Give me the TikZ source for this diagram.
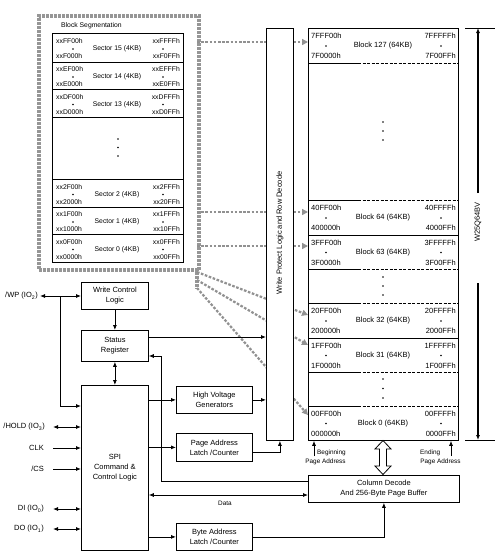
\documentclass[tikz,border=0pt]{standalone}
\usepackage{fontspec}
\setmainfont{Liberation Sans}
\usetikzlibrary{arrows.meta,calc}
\definecolor{gbox}{RGB}{150,150,150}
\definecolor{garrc}{RGB}{145,145,145}
\newcommand\fsa{\fontsize{7.5}{10}\selectfont}
\newcommand\fsb{\fontsize{6.8}{8}\selectfont}
\newcommand\fsc{\fontsize{6.4}{8}\selectfont}
\newcommand\secrow[8]{%
  \pgfmathsetmacro\rc{(#2+#3)/2+1.5}%
  \node[box, minimum width=131pt, minimum height={(#3-#2)*1pt}] (#1) at (52,#2) {};
  \node[font=\fsb] at (117,\rc) {#4};
  \node[font=\fsb, anchor=west] at (56,\rc-7.5) {#5};
  \node[font=\fsb, anchor=west] at (56,\rc+7.5) {#6};
  \node[font=\fsb, anchor=east] at (180,\rc-7.5) {#7};
  \node[font=\fsb, anchor=east] at (180,\rc+7.5) {#8};
  \fill (73,\rc) circle (0.9pt);
  \fill (163,\rc) circle (0.9pt);
}
\newcommand\blkrow[8]{%
  \pgfmathsetmacro\rc{(#2+#3)/2+0.5}%
  \node[anchor=north west, minimum width=150pt, minimum height={(#3-#2)*1pt}] (#1) at (308,#2) {};
  \node[font=\fsa] at (383,\rc) {#4};
  \node[font=\fsa, anchor=west] at (311,\rc-10) {#5};
  \node[font=\fsa, anchor=west] at (311,\rc+10) {#6};
  \node[font=\fsa, anchor=east] at (456,\rc-10) {#7};
  \node[font=\fsa, anchor=east] at (456,\rc+10) {#8};
  \fill (326,\rc) circle (0.9pt);
  \fill (441,\rc) circle (0.9pt);
}
\begin{document}
\begin{tikzpicture}[x=1pt,y=-1pt,
  every node/.style={inner sep=0pt, font=\fsa},
  box/.style={draw, line width=.8pt, anchor=north west, align=center, fill=white},
  ln/.style={line width=.8pt},
  arr/.style={line width=.8pt, -{Latex[length=5pt,width=4pt]}},
  darr/.style={line width=.8pt, {Latex[length=5pt,width=4pt]}-{Latex[length=5pt,width=4pt]}},
  garr/.style={draw=garrc, line width=2.2pt, dash pattern=on 2.6pt off 1.6pt, -{Triangle[length=6pt,width=6pt]}},
  gline/.style={draw=gbox, line width=3.5pt, dash pattern=on 3pt off 1pt},
  sep/.style={line width=.8pt, dash pattern=on 3pt off 1.5pt}
]
\useasboundingbox (0,0) rectangle (500,560);
\fill[white] (0,0) rectangle (500,560);

% ---------- block segmentation ----------
\node[anchor=north west, minimum width=160pt, minimum height=254pt, gline] (seg) at (37,14) {};
\draw[gline] (197,268) -- (197,289);
\node[anchor=west, font=\fsb] (segl) at (61,26) {Block Segmentation};
\secrow{s15}{33}{62}{Sector 15 (4KB)}{xxFF00h}{xxF000h}{xxFFFFh}{xxF0FFh}
\secrow{s14}{62}{89}{Sector 14 (4KB)}{xxEF00h}{xxE000h}{xxEFFFh}{xxE0FFh}
\secrow{s13}{89}{117}{Sector 13 (4KB)}{xxDF00h}{xxD000h}{xxDFFFh}{xxD0FFh}
\node[box, minimum width=131pt, minimum height=62pt] (sgap) at (52,117) {};
\fill (118,139) circle (0.9pt) (118,147.5) circle (0.9pt) (118,156) circle (0.9pt);
\secrow{s2}{179}{207}{Sector 2 (4KB)}{xx2F00h}{xx2000h}{xx2FFFh}{xx20FFh}
\secrow{s1}{207}{234}{Sector 1 (4KB)}{xx1F00h}{xx1000h}{xx1FFFh}{xx10FFh}
\secrow{s0}{234}{262}{Sector 0 (4KB)}{xx0F00h}{xx0000h}{xx0FFFh}{xx00FFh}

% ---------- memory array ----------
\node[box, minimum width=150pt, minimum height=412pt] (mem) at (308,28) {};
\blkrow{b127}{28}{63}{Block 127 (64KB)}{7FFF00h}{7F0000h}{7FFFFFh}{7F00FFh}
\blkrow{b64}{200}{235}{Block 64 (64KB)}{40FF00h}{400000h}{40FFFFh}{4000FFh}
\blkrow{b63}{235}{269}{Block 63 (64KB)}{3FFF00h}{3F0000h}{3FFFFFh}{3F00FFh}
\blkrow{b32}{303}{338}{Block 32 (64KB)}{20FF00h}{200000h}{20FFFFh}{2000FFh}
\blkrow{b31}{338}{372}{Block 31 (64KB)}{1FFF00h}{1F0000h}{1FFFFFh}{1F00FFh}
\blkrow{b0}{406}{440}{Block 0 (64KB)}{00FF00h}{000000h}{00FFFFh}{0000FFh}
\foreach \yy in {63,200,269,303,372,406}{
  \draw[ln] (308,\yy) -- (358,\yy);
  \draw[sep] (358,\yy) -- (458,\yy);
}
\draw[ln] (308,235) -- (458,235);
\draw[ln] (308,338) -- (458,338);
\foreach \yy in {122,131,140,277,286,295,379,388.5,398}{
  \fill (383,\yy) circle (0.9pt);
}

% ---------- gray address arrows (behind write protect) ----------
\coordinate (g127) at (197,42);
\coordinate (g64) at (197,212);
\coordinate (g63) at (197,246);
\coordinate (d32) at (197,272);
\coordinate (d31) at (197,280);
\coordinate (d0) at (197,288);
\coordinate (e32) at (308,315);
\coordinate (e31) at (308,345);
\coordinate (e0) at (308,415);
\draw[garr] (g127) -- (g127 -| mem.west);
\draw[garr] (g64) -- (g64 -| mem.west);
\draw[garr] (g63) -- (g63 -| mem.west);
\draw[garr] (d32) -- (e32);
\draw[garr] (d31) -- (e31);
\draw[garr] (d0) -- (e0);

% ---------- write protect ----------
\node[box, minimum width=27pt, minimum height=412pt] (wp) at (266,28) {};
\node[rotate=90] (wpl) at (280,233) {Write Protect Logic and Row Decode};

% ---------- dimension ----------
\coordinate (dtop) at (478,28);
\coordinate (dbot) at (478,440);
\coordinate (dt1) at (478,193);
\coordinate (db1) at (478,283);
\draw[ln] (465,28) -- (495,28);
\draw[ln] (465,440) -- (495,440);
\draw[arr, line width=1.3pt] (dt1) -- (dtop);
\draw[arr, line width=1.3pt] (db1) -- (dbot);
\node[rotate=90] (dlab) at (478,222) {W25Q64BV};

% ---------- control blocks ----------
\node[box, minimum width=67pt, minimum height=27pt] (wcl) at (81,282) {Write Control\\Logic};
\node[box, minimum width=67pt, minimum height=31pt] (sr) at (81,330) {Status\\Register};
\node[box, minimum width=67pt, minimum height=165pt] (spi) at (81,385) {SPI\\Command \&\\Control Logic};
\node[box, minimum width=76pt, minimum height=27pt] (hv) at (176,386) {High Voltage\\Generators};
\node[box, minimum width=76pt, minimum height=28pt] (pal) at (176,433) {Page Address\\Latch /Counter};
\node[box, minimum width=76pt, minimum height=27pt] (bal) at (176,523) {Byte Address\\Latch /Counter};
\node[box, minimum width=151pt, minimum height=27pt] (cd) at (308,475) {Column Decode\\And 256-Byte Page Buffer};

% ---------- pins ----------
\node[anchor=east] (pwp) at (38,296) {/WP (IO\textsubscript{2})};
\node[anchor=east] (phold) at (45,427) {/HOLD (IO\textsubscript{3})};
\node[anchor=east] (pclk) at (44,448) {CLK};
\node[anchor=east] (pcs) at (44,469) {/CS};
\node[anchor=east] (pdi) at (44,509) {DI (IO\textsubscript{0})};
\node[anchor=east] (pdo) at (44,529) {DO (IO\textsubscript{1})};

\draw[darr] ([xshift=2pt]pwp.east) -- (pwp.east -| wcl.west);
\coordinate (j1) at (60,296);
\coordinate (j2) at (60,406);
\draw[arr] (j1) -- (j2) -- (j2 -| spi.west);
\draw[darr] ([xshift=8pt]phold.east) -- (phold.east -| spi.west);
\draw[arr] ([xshift=9pt]pclk.east) -- (pclk.east -| spi.west);
\draw[arr] ([xshift=9pt]pcs.east) -- (pcs.east -| spi.west);
\draw[darr] ([xshift=9pt]pdi.east) -- (pdi.east -| spi.west);
\draw[darr] ([xshift=9pt]pdo.east) -- (pdo.east -| spi.west);

% ---------- internal connectors ----------
\draw[arr] (wcl.south) -- (sr.north);
\draw[darr] (sr.south) -- (spi.north);
\coordinate (ysr) at (0,337);
\draw[arr] (sr.east |- ysr) -- (wp.west |- ysr);
\draw[arr] (spi.east |- hv.west) -- (hv.west);
\draw[arr] (hv.east) -- (hv.east -| wp.west);
\draw[arr] (spi.east |- pal.west) -- (pal.west);
\coordinate (ypal) at (0,452);
\draw[arr] (pal.east |- ypal) -| (wp.south);
\draw[arr] (spi.east |- bal.west) -- (bal.west);
\draw[arr] (bal.east) -| (cd.south);
\coordinate (k1) at (161,481);
\coordinate (k2) at (161,356);
\draw[arr] (cd.west |- k1) -- (k1) -- (k2) -- (k2 -| sr.east);
\coordinate (ydata) at (0,495);
\draw[darr] (cd.west |- ydata) -- (spi.east |- ydata);
\node[font=\fsc] (datal) at (225,503) {Data};

% ---------- page address pointers ----------
\coordinate (bp) at (314,456);
\coordinate (ep) at (451,456);
\draw[arr] (bp) -- (bp |- mem.south);
\draw[arr] (ep) -- (ep |- mem.south);
\node[font=\fsc, anchor=west] (begl) at (317,453) {Beginning};
\node[font=\fsc] (begp) at (325.5,462) {Page Address};
\node[font=\fsc, anchor=west] (endl) at (420,453) {Ending};
\node[font=\fsc] (endp) at (440.5,462) {Page Address};

% ---------- hollow double arrow ----------
\draw[ln, fill=white] (383,440.5) -- (391,449) -- (386.5,449) -- (386.5,466) -- (391,466) -- (383,474.5)
  -- (375,466) -- (379.5,466) -- (379.5,449) -- (375,449) -- cycle;
\end{tikzpicture}
\end{document}
